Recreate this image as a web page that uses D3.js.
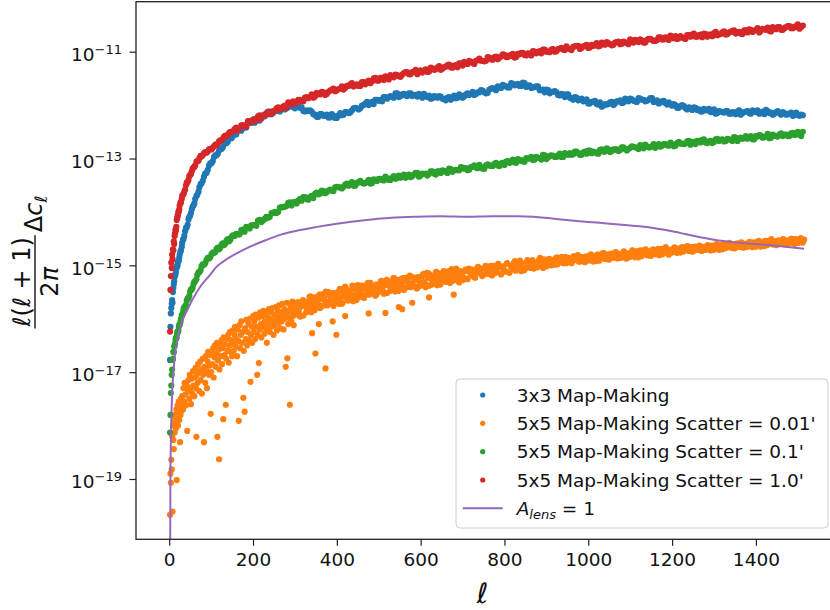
<!DOCTYPE html>
<html><head><meta charset="utf-8">
<script src="https://cdn.jsdelivr.net/npm/d3@7"></script>
<style>body{margin:0;background:#fff}svg{display:block}text{font-family:"DejaVu Sans",sans-serif}</style>
</head><body><svg id="chart" width="830" height="610"></svg>
<script>
// multipole grids for the three dense series
const ellGrid = [2,3,4,5,6,7,8,9,10,11,12,14,16,18,20,22,24,27,30,33,36,40,44,48,52,56,60,65,70,75,80,86,92,98,104,110,116,122,128,134,140,146,152,
160,168,176,184,192,200,208,216,224,232,
240,248,256,264,272,280,288,296,304,312,
320,328,336,344,352,360,368,376,384,392,
400,408,416,424,432,440,448,456,464,472,
480,488,496,504,512,520,528,536,544,552,
560,568,576,584,592,600,608,616,624,632,
640,648,656,664,672,680,688,696,704,712,
720,728,736,744,752,760,768,776,784,792,
800,808,816,824,832,840,848,856,864,872,
880,888,896,904,912,920,928,936,944,952,
960,968,976,984,992,1000,1008,1016,1024,1032,
1040,1048,1056,1064,1072,1080,1088,1096,1104,1112,
1120,1128,1136,1144,1152,1160,1168,1176,1184,1192,
1200,1208,1216,1224,1232,1240,1248,1256,1264,1272,
1280,1288,1296,1304,1312,1320,1328,1336,1344,1352,
1360,1368,1376,1384,1392,1400,1408,1416,1424,1432,
1440,1448,1456,1464,1472,1480,1488,1496,1504,1512];
const ellGridB = [13,15,17,19,21,23,25,28,31,34,38,42,46,50,54,58,62,67,72,77,83,89,95,101,107,113,119,125,131,137,143,149,156,
164,172,180,188,196,204,212,220,228,236,
244,252,260,268,276,284,292,300,308,316,
324,332,340,348,356,364,372,380,388,396,
404,412,420,428,436,444,452,460,468,476,
484,492,500,508,516,524,532,540,548,556,
564,572,580,588,596,604,612,620,628,636,
644,652,660,668,676,684,692,700,708,716,
724,732,740,748,756,764,772,780,788,796,
804,812,820,828,836,844,852,860,868,876,
884,892,900,908,916,924,932,940,948,956,
964,972,980,988,996,1004,1012,1020,1028,1036,
1044,1052,1060,1068,1076,1084,1092,1100,1108,1116,
1124,1132,1140,1148,1156,1164,1172,1180,1188,1196,
1204,1212,1220,1228,1236,1244,1252,1260,1268,1276,
1284,1292,1300,1308,1316,1324,1332,1340,1348,1356,
1364,1372,1380,1388,1396,1404,1412,1420,1428,1436,
1444,1452,1460,1468,1476,1484,1492,1500,1508];

// log10 of l(l+1)/2pi dC_l -- 3x3 map-making
const map3x3Log = [-16.77,-16.15,-15.90,-15.80,-15.72,-15.65,-15.70,-15.50,-15.42,-15.35,-15.30,-15.18,-15.12,-15.02,-15.00,-14.92,-14.86,-14.74,-14.65,-14.52,-14.45,-14.30,-14.24,-14.09,-14.02,-13.90,-13.84,-13.70,-13.62,-13.48,-13.42,-13.28,-13.21,-13.09,-13.05,-12.94,-12.91,-12.82,-12.79,-12.70,-12.68,-12.61,-12.58,
-12.55,-12.45,-12.43,-12.42,-12.33,-12.27,-12.29,-12.29,-12.19,-12.18,
-12.12,-12.15,-12.10,-12.12,-12.03,-12.06,-12.01,-12.04,-12.00,-12.05,
-12.11,-12.10,-12.10,-12.17,-12.22,-12.17,-12.20,-12.18,-12.23,-12.20,
-12.24,-12.15,-12.18,-12.13,-12.14,-12.06,-12.06,-12.06,-12.00,-11.94,
-11.97,-11.98,-11.90,-11.90,-11.85,-11.88,-11.83,-11.86,-11.78,-11.83,
-11.79,-11.83,-11.78,-11.81,-11.84,-11.81,-11.79,-11.85,-11.88,-11.83,
-11.86,-11.84,-11.89,-11.86,-11.90,-11.82,-11.86,-11.82,-11.84,-11.78,
-11.79,-11.81,-11.76,-11.72,-11.76,-11.77,-11.69,-11.70,-11.65,-11.68,
-11.64,-11.67,-11.59,-11.63,-11.60,-11.64,-11.59,-11.64,-11.68,-11.66,
-11.65,-11.72,-11.76,-11.72,-11.75,-11.74,-11.81,-11.79,-11.85,-11.80,
-11.87,-11.85,-11.91,-11.88,-11.92,-11.97,-11.94,-11.92,-11.99,-12.03,
-11.98,-11.98,-11.94,-11.97,-11.93,-11.96,-11.88,-11.93,-11.89,-11.93,
-11.87,-11.90,-11.93,-11.90,-11.87,-11.93,-11.97,-11.93,-11.96,-11.95,
-12.01,-12.00,-12.05,-12.00,-12.06,-12.04,-12.09,-12.05,-12.08,-12.12,
-12.09,-12.07,-12.13,-12.16,-12.11,-12.13,-12.11,-12.16,-12.13,-12.17,
-12.10,-12.15,-12.12,-12.15,-12.10,-12.13,-12.16,-12.12,-12.09,-12.15,
-12.18,-12.13,-12.15,-12.13,-12.18,-12.16,-12.20,-12.14,-12.20,-12.19];
const map3x3LogB = [-15.22,-15.17,-15.05,-15.03,-14.94,-14.91,-14.80,-14.72,-14.58,-14.51,-14.36,-14.29,-14.14,-14.07,-13.95,-13.88,-13.76,-13.68,-13.54,-13.47,-13.34,-13.27,-13.13,-13.09,-12.97,-12.94,-12.85,-12.82,-12.73,-12.71,-12.63,-12.62,-12.54,
-12.48,-12.48,-12.40,-12.33,-12.33,-12.33,-12.24,-12.23,-12.21,-12.12,
-12.17,-12.11,-12.11,-12.05,-12.08,-12.04,-12.00,-12.06,-12.03,-12.04,
-12.12,-12.11,-12.12,-12.18,-12.22,-12.17,-12.20,-12.23,-12.17,-12.24,
-12.19,-12.19,-12.13,-12.15,-12.10,-12.05,-12.08,-12.01,-11.97,-12.00,
-11.94,-11.90,-11.92,-11.93,-11.85,-11.85,-11.85,-11.78,-11.85,-11.80,
-11.82,-11.78,-11.83,-11.81,-11.79,-11.86,-11.82,-11.82,-11.87,-11.84,
-11.83,-11.88,-11.91,-11.85,-11.86,-11.87,-11.80,-11.86,-11.80,-11.81,
-11.75,-11.79,-11.76,-11.73,-11.78,-11.71,-11.68,-11.72,-11.66,-11.62,
-11.65,-11.67,-11.60,-11.62,-11.64,-11.58,-11.66,-11.63,-11.67,-11.65,
-11.72,-11.71,-11.71,-11.78,-11.75,-11.76,-11.82,-11.80,-11.80,-11.86,
-11.90,-11.86,-11.90,-11.93,-11.89,-11.97,-11.94,-11.98,-11.95,-12.01,
-11.99,-11.95,-12.00,-11.93,-11.91,-11.95,-11.91,-11.88,-11.92,-11.94,
-11.88,-11.90,-11.92,-11.87,-11.94,-11.91,-11.95,-11.92,-11.99,-11.98,
-11.98,-12.05,-12.02,-12.02,-12.08,-12.05,-12.04,-12.09,-12.12,-12.07,
-12.10,-12.13,-12.08,-12.15,-12.12,-12.14,-12.11,-12.16,-12.14,-12.12,
-12.18,-12.13,-12.11,-12.16,-12.12,-12.10,-12.14,-12.17,-12.11,-12.14,
-12.16,-12.11,-12.18,-12.15,-12.17,-12.14,-12.19,-12.18,-12.18];

// 5x5, scatter 0.1'
const scatter01Log = [-18.13,-17.80,-17.39,-17.25,-17.05,-16.95,-16.77,-16.75,-16.62,-16.63,-16.52,-16.47,-16.36,-16.34,-16.24,-16.22,-16.12,-16.06,-15.93,-15.89,-15.78,-15.74,-15.62,-15.57,-15.45,-15.42,-15.31,-15.26,-15.13,-15.09,-14.98,-14.96,-14.86,-14.85,-14.76,-14.75,-14.67,-14.67,-14.59,-14.59,-14.51,-14.52,-14.44,
-14.41,-14.42,-14.33,-14.28,-14.31,-14.25,-14.26,-14.15,-14.16,-14.09,
-14.09,-14.02,-14.02,-13.92,-13.91,-13.89,-13.82,-13.82,-13.84,-13.76,
-13.72,-13.76,-13.72,-13.74,-13.64,-13.66,-13.61,-13.63,-13.58,-13.61,
-13.53,-13.54,-13.53,-13.47,-13.48,-13.51,-13.45,-13.42,-13.47,-13.44,
-13.47,-13.39,-13.42,-13.38,-13.41,-13.37,-13.40,-13.33,-13.36,-13.36,
-13.30,-13.32,-13.35,-13.30,-13.27,-13.32,-13.29,-13.32,-13.24,-13.28,
-13.24,-13.27,-13.23,-13.27,-13.20,-13.22,-13.22,-13.16,-13.19,-13.22,
-13.16,-13.13,-13.18,-13.16,-13.19,-13.11,-13.14,-13.10,-13.13,-13.09,
-13.12,-13.05,-13.07,-13.07,-13.01,-13.03,-13.06,-13.00,-12.97,-13.02,
-12.99,-13.02,-12.94,-12.98,-12.94,-12.97,-12.94,-12.97,-12.90,-12.93,
-12.93,-12.87,-12.90,-12.93,-12.87,-12.85,-12.90,-12.88,-12.91,-12.83,
-12.87,-12.83,-12.86,-12.83,-12.86,-12.79,-12.82,-12.82,-12.77,-12.79,
-12.82,-12.77,-12.74,-12.79,-12.77,-12.80,-12.73,-12.76,-12.73,-12.76,
-12.73,-12.76,-12.69,-12.72,-12.72,-12.67,-12.69,-12.73,-12.67,-12.65,
-12.70,-12.68,-12.71,-12.64,-12.67,-12.64,-12.67,-12.64,-12.67,-12.61,
-12.63,-12.63,-12.58,-12.60,-12.64,-12.58,-12.56,-12.61,-12.59,-12.62,
-12.55,-12.58,-12.55,-12.58,-12.55,-12.58,-12.52,-12.55,-12.55,-12.50];
const scatter01LogB = [-16.51,-16.40,-16.37,-16.27,-16.25,-16.15,-16.11,-16.00,-15.93,-15.82,-15.78,-15.66,-15.62,-15.49,-15.45,-15.35,-15.30,-15.18,-15.13,-15.02,-14.99,-14.90,-14.87,-14.79,-14.77,-14.69,-14.70,-14.61,-14.62,-14.53,-14.55,-14.46,-14.45,
-14.42,-14.34,-14.37,-14.29,-14.25,-14.24,-14.16,-14.19,-14.13,-14.11,
-14.02,-14.00,-14.00,-13.91,-13.90,-13.83,-13.88,-13.81,-13.79,-13.79,
-13.72,-13.77,-13.70,-13.66,-13.67,-13.60,-13.65,-13.60,-13.60,-13.54,
-13.54,-13.56,-13.49,-13.51,-13.44,-13.51,-13.45,-13.45,-13.46,-13.40,
-13.46,-13.40,-13.38,-13.40,-13.34,-13.40,-13.36,-13.38,-13.32,-13.33,
-13.36,-13.30,-13.33,-13.27,-13.34,-13.28,-13.28,-13.29,-13.24,-13.30,
-13.24,-13.22,-13.25,-13.19,-13.25,-13.21,-13.22,-13.17,-13.18,-13.21,
-13.15,-13.17,-13.12,-13.19,-13.13,-13.13,-13.14,-13.08,-13.14,-13.08,
-13.06,-13.08,-13.02,-13.08,-13.04,-13.05,-12.99,-13.00,-13.03,-12.97,
-12.99,-12.93,-13.01,-12.95,-12.95,-12.97,-12.91,-12.97,-12.92,-12.90,
-12.92,-12.87,-12.93,-12.89,-12.91,-12.85,-12.87,-12.90,-12.84,-12.87,
-12.81,-12.88,-12.83,-12.83,-12.84,-12.79,-12.85,-12.80,-12.78,-12.80,
-12.75,-12.81,-12.77,-12.79,-12.73,-12.75,-12.78,-12.73,-12.75,-12.70,
-12.77,-12.71,-12.72,-12.73,-12.68,-12.74,-12.69,-12.67,-12.70,-12.64,
-12.71,-12.67,-12.69,-12.63,-12.65,-12.68,-12.63,-12.65,-12.60,-12.67,
-12.61,-12.62,-12.63,-12.58,-12.64,-12.59,-12.57,-12.60,-12.54,-12.61,
-12.57,-12.59,-12.53,-12.55,-12.58,-12.53,-12.56,-12.50,-12.58];

// 5x5, scatter 1.0'
const scatter10Log = [-16.24,-15.46,-15.20,-14.95,-15.05,-14.80,-14.88,-14.70,-14.72,-14.55,-14.60,-14.40,-14.35,-14.15,-14.08,-14.00,-13.95,-13.82,-13.76,-13.68,-13.62,-13.50,-13.44,-13.33,-13.29,-13.19,-13.16,-13.06,-13.04,-12.95,-12.94,-12.88,-12.87,-12.82,-12.80,-12.74,-12.72,-12.66,-12.63,-12.57,-12.56,-12.50,-12.49,
-12.42,-12.44,-12.38,-12.40,-12.30,-12.29,-12.29,-12.19,-12.21,-12.15,
-12.17,-12.11,-12.06,-12.08,-12.04,-12.05,-11.96,-11.93,-11.95,-11.90,
-11.93,-11.85,-11.85,-11.86,-11.77,-11.80,-11.76,-11.79,-11.73,-11.69,
-11.72,-11.69,-11.71,-11.64,-11.61,-11.65,-11.61,-11.64,-11.57,-11.57,
-11.59,-11.50,-11.54,-11.49,-11.53,-11.48,-11.44,-11.48,-11.44,-11.47,
-11.40,-11.38,-11.42,-11.38,-11.42,-11.35,-11.36,-11.38,-11.30,-11.34,
-11.30,-11.34,-11.29,-11.25,-11.29,-11.26,-11.29,-11.22,-11.19,-11.23,
-11.19,-11.23,-11.16,-11.17,-11.18,-11.10,-11.14,-11.10,-11.14,-11.09,
-11.06,-11.10,-11.08,-11.11,-11.04,-11.02,-11.06,-11.03,-11.07,-11.00,
-11.01,-11.03,-10.96,-11.00,-10.96,-11.00,-10.95,-10.93,-10.97,-10.94,
-10.97,-10.90,-10.89,-10.93,-10.89,-10.93,-10.87,-10.88,-10.90,-10.83,
-10.87,-10.84,-10.88,-10.83,-10.81,-10.85,-10.83,-10.86,-10.79,-10.78,
-10.82,-10.79,-10.83,-10.76,-10.78,-10.80,-10.73,-10.77,-10.73,-10.78,
-10.73,-10.71,-10.75,-10.73,-10.76,-10.69,-10.68,-10.72,-10.69,-10.73,
-10.67,-10.68,-10.71,-10.63,-10.67,-10.64,-10.68,-10.64,-10.61,-10.66,
-10.63,-10.67,-10.60,-10.58,-10.63,-10.59,-10.64,-10.57,-10.59,-10.61,
-10.54,-10.58,-10.54,-10.59,-10.54,-10.52,-10.56,-10.54,-10.57,-10.51];
const scatter10LogB = [-14.45,-14.33,-14.28,-14.12,-14.05,-13.99,-13.88,-13.83,-13.70,-13.67,-13.58,-13.45,-13.40,-13.31,-13.24,-13.17,-13.13,-13.05,-12.99,-12.96,-12.90,-12.89,-12.83,-12.83,-12.77,-12.75,-12.68,-12.66,-12.59,-12.58,-12.52,-12.51,-12.45,
-12.47,-12.38,-12.38,-12.30,-12.32,-12.26,-12.21,-12.25,-12.18,-12.13,
-12.16,-12.11,-12.04,-12.07,-12.01,-11.95,-11.98,-11.97,-11.90,-11.93,
-11.86,-11.87,-11.80,-11.84,-11.79,-11.75,-11.81,-11.75,-11.71,-11.74,
-11.70,-11.65,-11.68,-11.64,-11.59,-11.63,-11.64,-11.57,-11.61,-11.54,
-11.56,-11.49,-11.54,-11.49,-11.46,-11.52,-11.46,-11.43,-11.46,-11.43,
-11.38,-11.42,-11.38,-11.34,-11.38,-11.39,-11.33,-11.37,-11.31,-11.33,
-11.27,-11.32,-11.28,-11.24,-11.30,-11.25,-11.22,-11.26,-11.22,-11.17,
-11.21,-11.17,-11.13,-11.17,-11.17,-11.11,-11.15,-11.09,-11.11,-11.05,
-11.10,-11.07,-11.04,-11.10,-11.05,-11.02,-11.07,-11.04,-10.99,-11.03,
-10.99,-10.96,-11.00,-11.01,-10.95,-10.99,-10.94,-10.96,-10.90,-10.95,
-10.91,-10.89,-10.95,-10.90,-10.87,-10.92,-10.89,-10.84,-10.89,-10.85,
-10.82,-10.86,-10.87,-10.82,-10.86,-10.81,-10.83,-10.77,-10.83,-10.79,
-10.77,-10.83,-10.78,-10.76,-10.80,-10.78,-10.73,-10.77,-10.74,-10.70,
-10.75,-10.76,-10.71,-10.75,-10.69,-10.72,-10.66,-10.72,-10.68,-10.66,
-10.72,-10.68,-10.65,-10.69,-10.67,-10.62,-10.67,-10.63,-10.60,-10.64,
-10.66,-10.60,-10.64,-10.59,-10.61,-10.56,-10.61,-10.58,-10.55,-10.62,
-10.57,-10.54,-10.59,-10.56,-10.52,-10.56,-10.53,-10.49,-10.54];

// 5x5, scatter 0.01' : [l, log10 value]
const scatter001Pts = [[2,-19.67],[3,-18.90],[4,-19.07],[5,-18.64],[6,-18.82],[7,-18.20],[8,-19.61],[9,-18.00],[10,-18.27],[11,-18.44],[12,-17.90],[13,-18.13],[14,-17.80],[15,-17.97],[16,-18.05],[17,-17.70],[18,-19.02],[19,-17.85],[20,-17.62],[21,-18.00],[22,-17.75],[23,-17.55],[24,-17.90],[25,-17.68],[26,-18.31],[27,-17.80],[28,-17.50],[29,-17.72],[30,-17.60],
[31,-17.45],[33,-17.70],[34,-17.30],[36,-17.55],[37,-17.20],[39,-17.42],[40,-17.62],[42,-17.25],[43,-18.10],[45,-17.35],[46,-17.15],[48,-17.50],[49,-17.05],[51,-17.30],[52,-17.60],[54,-17.12],[55,-17.40],[57,-16.98],[58,-17.25],[60,-17.45],[61,-17.10],[63,-16.92],[64,-17.30],[65,-18.21],[66,-17.05],[68,-17.20],[69,-16.85],[71,-17.35],[72,-17.00],[74,-16.80],[75,-17.15],[77,-16.95],[78,-17.40],[80,-16.75],[81,-17.05],[83,-18.31],[84,-16.90],[86,-17.20],[87,-16.70],[89,-16.98],[90,-17.30],[92,-16.80],[93,-16.62],[95,-17.05],[96,-16.88],[98,-16.68],[99,-17.78],[100,-17.00],
[102,-16.60],[103,-16.85],[105,-16.55],[106,-17.10],[108,-16.72],[109,-16.50],[111,-16.90],[112,-16.65],[114,-16.45],[115,-18.21],[116,-16.78],[118,-16.58],[119,-18.63],[120,-16.95],[122,-16.50],[123,-16.70],[125,-16.40],[126,-16.85],[128,-16.55],[129,-17.88],[130,-16.35],[132,-16.68],[133,-16.48],[135,-17.61],[136,-16.75],[138,-16.38],[139,-16.60],[141,-16.30],[142,-16.82],[144,-16.50],[145,-16.25],[147,-16.62],[148,-16.40],[150,-16.70],[151,-16.22],[153,-16.48],[154,-16.60],[156,-16.30],[157,-16.15],[159,-16.52],[160,-16.38],[162,-16.70],[163,-16.20],[165,-16.42],[166,-17.91],[168,-16.12],[169,-16.55],[171,-16.30],[172,-16.05],[174,-16.45],[175,-16.25],[177,-17.48],[178,-16.60],[180,-17.74],[181,-16.18],[183,-16.38],[184,-16.02],[186,-16.50],[187,-16.25],[189,-16.10],[190,-16.40],[192,-16.00],[194,-17.18],[195,-16.30],[197,-16.15],[198,-16.45],[200,-15.95],
[202,-16.25],[203,-16.05],[205,-16.38],[206,-15.92],[208,-16.15],[210,-17.05],[211,-16.30],[213,-15.98],[214,-16.83],[216,-16.20],[217,-15.88],[219,-16.10],[220,-16.35],[222,-15.95],[224,-16.15],[225,-15.85],[227,-16.28],[228,-16.05],[230,-15.90],[232,-16.20],[233,-16.45],[235,-15.98],[236,-16.10],[238,-15.82],[240,-16.25],[241,-16.00],[243,-15.88],[244,-16.15],[246,-15.80],[248,-16.05],[249,-16.30],[251,-15.92],[252,-16.12],[254,-15.78],[256,-16.00],[257,-16.22],[259,-15.85],[260,-16.08],[262,-15.75],[264,-15.95],[265,-16.18],[267,-15.88],[268,-16.05],[270,-15.72],[272,-15.98],[273,-16.20],[275,-15.82],[276,-16.00],[278,-16.90],[279,-15.90],[281,-15.70],[282,-16.74],[284,-16.10],[286,-15.85],[287,-15.98],[288,-17.61],[289,-15.75],[291,-16.05],[292,-15.88],[294,-15.68],[295,-15.95],[297,-16.12],[298,-15.80],[300,-15.90],
[305,-15.71],[310,-15.91],[315,-15.77],[320,-15.94],[325,-15.69],[330,-15.78],[335,-15.59],[340,-15.84],[345,-15.69],[350,-15.75],
[355,-15.58],[360,-15.80],[365,-15.61],[370,-15.65],[375,-15.74],[380,-15.50],[385,-15.67],[390,-15.52],[395,-15.68],[400,-15.53],
[405,-15.72],[410,-15.46],[415,-15.58],[420,-15.40],[425,-15.63],[430,-15.50],[435,-15.65],[440,-15.44],[445,-15.56],[450,-15.37],
[455,-15.59],[460,-15.44],[465,-15.61],[470,-15.39],[475,-15.48],[480,-15.33],[485,-15.52],[490,-15.43],[495,-15.54],[500,-15.36],
[505,-15.30],[510,-15.49],[515,-15.37],[520,-15.52],[525,-15.32],[530,-15.41],[535,-15.24],[540,-15.46],[545,-15.34],[550,-15.40],
[555,-15.25],[560,-15.46],[565,-15.29],[570,-15.40],[575,-15.20],[580,-15.35],[585,-15.23],[590,-15.43],[595,-15.28],[600,-15.38],
[605,-15.18],[610,-15.34],[615,-15.14],[620,-15.38],[625,-15.21],[630,-15.27],[635,-15.16],[640,-15.37],[645,-15.21],[650,-15.30],
[655,-15.11],[660,-15.31],[665,-15.19],[670,-15.33],[675,-15.13],[680,-15.23],[685,-15.06],[690,-15.25],[695,-15.14],[700,-15.28],
[705,-15.11],[710,-15.25],[715,-15.06],[720,-15.19],[725,-15.11],[730,-15.23],[735,-15.05],[740,-15.14],[745,-15.06],[750,-15.18],
[755,-15.01],[760,-15.15],[765,-15.08],[770,-15.19],[775,-15.01],[780,-15.11],[785,-14.97],[790,-15.15],[795,-15.02],[800,-15.12],
[805,-14.97],[810,-15.13],[815,-15.02],[820,-15.08],[825,-14.92],[830,-15.04],[835,-14.95],[840,-15.11],[845,-14.97],[850,-15.06],
[855,-14.90],[860,-15.03],[865,-14.93],[870,-15.06],[875,-14.96],[880,-15.02],[885,-14.86],[890,-14.98],[895,-14.89],[900,-15.02],
[905,-14.89],[910,-14.99],[915,-14.91],[920,-14.99],[925,-14.85],[930,-14.93],[935,-14.87],[940,-14.96],[945,-14.84],[950,-14.94],
[955,-14.87],[960,-14.96],[965,-14.83],[970,-14.90],[975,-14.81],[980,-14.93],[985,-14.86],[990,-14.93],[995,-14.83],[1000,-14.90],
[1005,-14.80],[1010,-14.91],[1015,-14.84],[1020,-14.92],[1025,-14.80],[1030,-14.86],[1035,-14.77],[1040,-14.88],[1045,-14.80],[1050,-14.89],
[1055,-14.78],[1060,-14.85],[1065,-14.75],[1070,-14.87],[1075,-14.79],[1080,-14.85],[1085,-14.74],[1090,-14.87],[1095,-14.78],[1100,-14.84],
[1105,-14.72],[1110,-14.81],[1115,-14.74],[1120,-14.85],[1125,-14.72],[1130,-14.78],[1135,-14.71],[1140,-14.81],[1145,-14.74],[1150,-14.82],
[1155,-14.70],[1160,-14.79],[1165,-14.72],[1170,-14.81],[1175,-14.69],[1180,-14.75],[1185,-14.66],[1190,-14.78],[1195,-14.71],[1200,-14.76],
[1205,-14.67],[1210,-14.75],[1215,-14.69],[1220,-14.76],[1225,-14.66],[1230,-14.71],[1235,-14.65],[1240,-14.73],[1245,-14.66],[1250,-14.74],
[1255,-14.65],[1260,-14.71],[1265,-14.63],[1270,-14.73],[1275,-14.66],[1280,-14.71],[1285,-14.62],[1290,-14.68],[1295,-14.63],[1300,-14.71],
[1305,-14.61],[1310,-14.68],[1315,-14.63],[1320,-14.70],[1325,-14.60],[1330,-14.65],[1335,-14.59],[1340,-14.67],[1345,-14.61],[1350,-14.68],
[1355,-14.59],[1360,-14.65],[1365,-14.57],[1370,-14.67],[1375,-14.60],[1380,-14.65],[1385,-14.56],[1390,-14.62],[1395,-14.57],[1400,-14.65],
[1405,-14.55],[1410,-14.62],[1415,-14.57],[1420,-14.64],[1425,-14.54],[1430,-14.59],[1435,-14.53],[1440,-14.61],[1445,-14.55],[1450,-14.62],
[1455,-14.53],[1460,-14.59],[1465,-14.51],[1470,-14.61],[1475,-14.54],[1480,-14.59],[1485,-14.50],[1490,-14.57],[1495,-14.51],[1500,-14.58],
[1505,-14.52],[1510,-14.57],[1515,-14.52],
[341,-16.27],[349,-16.65],[357,-16.10],[373,-16.93],[390,-16.05],[399,-16.30],[420,-15.95],[476,-15.90],[516,-15.89],[548,-15.78],[556,-15.82],[580,-15.70],[620,-15.60],[679,-15.55]];
const scatter001PtsB = [[302,-15.92],[307,-15.69],[312,-15.96],[317,-15.75],[322,-15.67],[327,-15.88],[332,-15.75],[337,-15.58],[342,-15.77],[347,-15.84],
[352,-15.61],[357,-15.65],[362,-15.76],[367,-15.54],[372,-15.67],[377,-15.75],[382,-15.54],[387,-15.56],[392,-15.76],[397,-15.58],
[402,-15.67],[407,-15.44],[412,-15.72],[417,-15.51],[422,-15.44],[427,-15.66],[432,-15.53],[437,-15.38],[442,-15.57],[447,-15.65],
[452,-15.43],[457,-15.46],[462,-15.56],[467,-15.38],[472,-15.48],[477,-15.55],[482,-15.37],[487,-15.40],[492,-15.57],[497,-15.42],
[502,-15.49],[507,-15.29],[512,-15.53],[517,-15.36],[522,-15.30],[527,-15.48],[532,-15.38],[537,-15.24],[542,-15.40],[547,-15.48],
[552,-15.28],[557,-15.31],[562,-15.42],[567,-15.23],[572,-15.34],[577,-15.41],[582,-15.23],[587,-15.26],[592,-15.43],[597,-15.28],
[602,-15.36],[607,-15.16],[612,-15.41],[617,-15.23],[622,-15.18],[627,-15.36],[632,-15.25],[637,-15.12],[642,-15.28],[647,-15.36],
[652,-15.16],[657,-15.19],[662,-15.30],[667,-15.11],[672,-15.22],[677,-15.29],[682,-15.12],[687,-15.14],[692,-15.32],[697,-15.17],
[702,-15.23],[707,-15.08],[712,-15.26],[717,-15.13],[722,-15.08],[727,-15.22],[732,-15.13],[737,-15.03],[742,-15.15],[747,-15.20],
[752,-15.06],[757,-15.08],[762,-15.16],[767,-15.01],[772,-15.10],[777,-15.15],[782,-15.02],[787,-15.03],[792,-15.17],[797,-15.05],
[802,-15.11],[807,-14.96],[812,-15.14],[817,-15.01],[822,-14.96],[827,-15.10],[832,-15.02],[837,-14.91],[842,-15.04],[847,-15.09],
[852,-14.95],[857,-14.97],[862,-15.05],[867,-14.90],[872,-14.98],[877,-15.04],[882,-14.90],[887,-14.92],[892,-15.05],[897,-14.94],
[902,-14.98],[907,-14.88],[912,-15.00],[917,-14.91],[922,-14.87],[927,-14.98],[932,-14.91],[937,-14.84],[942,-14.93],[947,-14.96],
[952,-14.86],[957,-14.89],[962,-14.93],[967,-14.83],[972,-14.90],[977,-14.93],[982,-14.84],[987,-14.85],[992,-14.94],[997,-14.86],
[1002,-14.91],[1007,-14.80],[1012,-14.93],[1017,-14.83],[1022,-14.80],[1027,-14.91],[1032,-14.84],[1037,-14.77],[1042,-14.86],[1047,-14.89],
[1052,-14.79],[1057,-14.82],[1062,-14.86],[1067,-14.76],[1072,-14.82],[1077,-14.86],[1082,-14.77],[1087,-14.77],[1092,-14.87],[1097,-14.78],
[1102,-14.83],[1107,-14.73],[1112,-14.85],[1117,-14.76],[1122,-14.73],[1127,-14.83],[1132,-14.77],[1137,-14.70],[1142,-14.78],[1147,-14.82],
[1152,-14.72],[1157,-14.75],[1162,-14.79],[1167,-14.69],[1172,-14.75],[1177,-14.79],[1182,-14.69],[1187,-14.70],[1192,-14.80],[1197,-14.71],
[1202,-14.75],[1207,-14.67],[1212,-14.77],[1217,-14.69],[1222,-14.67],[1227,-14.74],[1232,-14.70],[1237,-14.64],[1242,-14.71],[1247,-14.74],
[1252,-14.66],[1257,-14.68],[1262,-14.71],[1267,-14.64],[1272,-14.69],[1277,-14.71],[1282,-14.64],[1287,-14.65],[1292,-14.72],[1297,-14.65],
[1302,-14.69],[1307,-14.60],[1312,-14.71],[1317,-14.63],[1322,-14.60],[1327,-14.68],[1332,-14.64],[1337,-14.58],[1342,-14.65],[1347,-14.68],
[1352,-14.60],[1357,-14.61],[1362,-14.65],[1367,-14.58],[1372,-14.62],[1377,-14.65],[1382,-14.58],[1387,-14.59],[1392,-14.66],[1397,-14.59],
[1402,-14.63],[1407,-14.54],[1412,-14.65],[1417,-14.57],[1422,-14.54],[1427,-14.62],[1432,-14.58],[1437,-14.51],[1442,-14.59],[1447,-14.62],
[1452,-14.54],[1457,-14.55],[1462,-14.59],[1467,-14.52],[1472,-14.56],[1477,-14.59],[1482,-14.52],[1487,-14.53],[1492,-14.60],[1497,-14.53],
[1502,-14.57],[1507,-14.49],[1512,-14.57]];
const scatter001PtsC = [[304,-15.74],[309,-15.85],[314,-15.95],[319,-15.65],[324,-15.76],[329,-15.85],[334,-15.68],[339,-15.88],[344,-15.60],[349,-15.70],
[354,-15.74],[359,-15.55],[364,-15.77],[369,-15.60],[374,-15.49],[379,-15.71],[384,-15.59],[389,-15.73],[394,-15.52],[399,-15.64],
[404,-15.49],[409,-15.60],[414,-15.70],[419,-15.41],[424,-15.52],[429,-15.62],[434,-15.47],[439,-15.67],[444,-15.40],[449,-15.50],
[454,-15.54],[459,-15.38],[464,-15.57],[469,-15.43],[474,-15.33],[479,-15.52],[484,-15.42],[489,-15.54],[494,-15.36],[499,-15.46],
[504,-15.33],[509,-15.44],[514,-15.52],[519,-15.27],[524,-15.38],[529,-15.46],[534,-15.32],[539,-15.49],[544,-15.27],[549,-15.35],
[554,-15.39],[559,-15.24],[564,-15.42],[569,-15.29],[574,-15.19],[579,-15.38],[584,-15.28],[589,-15.40],[594,-15.22],[599,-15.33],
[604,-15.20],[609,-15.31],[614,-15.39],[619,-15.15],[624,-15.25],[629,-15.33],[634,-15.20],[639,-15.37],[644,-15.15],[649,-15.23],
[654,-15.27],[659,-15.12],[664,-15.30],[669,-15.17],[674,-15.07],[679,-15.27],[684,-15.16],[689,-15.29],[694,-15.11],[699,-15.22]];

// A_lens = 1 theory curve : [l, log10 value]
const lensPts = [[2,-21.0],[3,-18.9],[4,-18.3],[5,-17.9],[7,-17.4],[10,-17.0],[14,-16.65],[19,-16.40],[25,-16.20],[32,-16.02],[43,-15.84],[55,-15.65],[74,-15.40],[95,-15.20],[114,-15.02],[140,-14.87],[160,-14.78],[193,-14.65],[230,-14.53],[265,-14.43],[300,-14.36],[353,-14.28],[400,-14.22],[472,-14.15],[530,-14.11],[591,-14.09],[650,-14.08],[711,-14.09],[770,-14.08],[830,-14.08],[870,-14.09],[909,-14.12],[960,-14.16],[1020,-14.20],[1080,-14.24],[1140,-14.28],[1200,-14.36],[1259,-14.46],[1300,-14.52],[1350,-14.57],[1418,-14.61],[1470,-14.65],[1515,-14.69]];

const xTicks = [0,200,400,600,800,1000,1200,1400];
const yTickExps = [-19,-17,-15,-13,-11];
const legendLabels = ["3x3 Map-Making","5x5 Map-Making Scatter = 0.01'","5x5 Map-Making Scatter = 0.1'","5x5 Map-Making Scatter = 1.0'"];
const colors = ["#1f77b4","#ff7f0e","#2ca02c","#d62728","#9467bd"];

const svg = d3.select("#chart");
const L=136, R=837, T=1.7, B=539.3;
const x = d3.scaleLinear().domain([-79.2,1593.5]).range([L,R]);
const y = d3.scaleLog().domain([Math.pow(10,-20.129),Math.pow(10,-10.064)]).range([B,T]);

svg.append("defs").append("clipPath").attr("id","clip").append("rect")
  .attr("x",L).attr("y",T).attr("width",R-L).attr("height",B-T);
const plot = svg.append("g").attr("clip-path","url(#clip)");

function dots(pts,color){
  plot.append("g").selectAll("circle").data(pts).join("circle")
    .attr("cx",d=>x(d[0])).attr("cy",d=>y(Math.pow(10,d[1]))).attr("r",3.1).attr("fill",color);
}
const zip = (ells,vals) => ells.map((l,i)=>[l,vals[i]]).filter(d=>d[1]!==undefined);
dots(zip(ellGrid,map3x3Log).concat(zip(ellGridB,map3x3LogB)),colors[0]);
dots(scatter001Pts.concat(scatter001PtsB,scatter001PtsC),colors[1]);
dots(zip(ellGrid,scatter01Log).concat(zip(ellGridB,scatter01LogB)),colors[2]);
dots(zip(ellGrid,scatter10Log).concat(zip(ellGridB,scatter10LogB)),colors[3]);
plot.append("path").datum(lensPts)
  .attr("d",d3.line().x(d=>x(d[0])).y(d=>y(Math.pow(10,d[1]))).curve(d3.curveMonotoneX))
  .attr("fill","none").attr("stroke",colors[4]).attr("stroke-width",2);

// frame
svg.append("rect").attr("x",L).attr("y",T).attr("width",R-L).attr("height",B-T)
  .attr("fill","none").attr("stroke","#222").attr("stroke-width",1.3);

// x axis
const gx = svg.append("g").attr("transform",`translate(0,${B})`)
  .call(d3.axisBottom(x).tickValues(xTicks).tickSize(6.5).tickPadding(7.5).tickFormat(d3.format("d")));
gx.select(".domain").remove();
gx.attr("font-family","DejaVu Sans").attr("font-size",18.5);
gx.selectAll("line").attr("stroke","#222").attr("stroke-width",1.2);
gx.selectAll("text").attr("fill","#111");

// y axis
const gy = svg.append("g").attr("transform",`translate(${L},0)`)
  .call(d3.axisLeft(y).tickValues(yTickExps.map(e=>Math.pow(10,e))).tickSize(6.5).tickFormat(""));
gy.select(".domain").remove();
gy.selectAll("line").attr("stroke","#222").attr("stroke-width",1.2);
yTickExps.forEach(e=>{
  const ty = y(Math.pow(10,e));
  const t = svg.append("text").attr("x",122).attr("y",ty+9.3).attr("text-anchor","end")
    .attr("font-size",18.5).attr("fill","#111");
  t.append("tspan").text("10");
  t.append("tspan").attr("font-size",13).attr("dy",-6.8).text("\u2212"+Math.abs(e));
});

// x label
svg.append("text").attr("x",482.5).attr("y",603).attr("text-anchor","middle")
  .attr("font-size",28).attr("font-style","italic").attr("fill","#111").text("\u2113");

// y label (fraction)
const F = 24;
const yl = svg.append("g").attr("transform","translate(35,262) rotate(-90)");
const num = yl.append("text").attr("font-size",F).attr("fill","#111").attr("y",-0.22*F);
num.append("tspan").attr("font-style","italic").text("\u2113");
num.append("tspan").text("(");
num.append("tspan").attr("font-style","italic").text("\u2113");
num.append("tspan").text(" + 1)");
const nw = num.node().getComputedTextLength();
const barW = nw + 4;
const den = yl.append("text").attr("font-size",F).attr("fill","#111").attr("y",0.95*F).attr("text-anchor","middle");
den.append("tspan").text("2");
den.append("tspan").attr("font-style","italic").text("\u03c0");
const dc = yl.append("text").attr("font-size",F).attr("fill","#111").attr("y",0.3*F);
dc.append("tspan").text("\u0394");
dc.append("tspan").attr("font-style","italic").text("c");
dc.append("tspan").attr("font-style","italic").attr("font-size",0.7*F).attr("dy",0.2*F).text("\u2113");
const dw = dc.node().getComputedTextLength();
const total = barW + 3 + dw;
const x0 = -total/2;
num.attr("x",x0+2);
yl.append("line").attr("x1",x0).attr("x2",x0+barW).attr("y1",0).attr("y2",0).attr("stroke","#111").attr("stroke-width",1.4);
den.attr("x",x0+barW/2);
dc.attr("x",x0+barW+3);

// legend
const lg = svg.append("g");
lg.append("rect").attr("x",456).attr("y",379).attr("width",372).attr("height",149).attr("rx",4)
  .attr("fill","#fff").attr("fill-opacity",0.8).attr("stroke","#cccccc").attr("stroke-width",1);
const rowY = [395,423.3,451.7,480,508.3];
legendLabels.forEach((lab,i)=>{
  lg.append("circle").attr("cx",482.7).attr("cy",rowY[i]).attr("r",2.6).attr("fill",colors[i]);
  lg.append("text").attr("x",516.7).attr("y",rowY[i]+6.6).attr("font-size",18.5).attr("fill","#111").text(lab);
});
lg.append("line").attr("x1",462.7).attr("x2",502.7).attr("y1",rowY[4]).attr("y2",rowY[4])
  .attr("stroke",colors[4]).attr("stroke-width",2);
const lt = lg.append("text").attr("x",516.7).attr("y",rowY[4]+6.6).attr("font-size",18.5).attr("fill","#111");
lt.append("tspan").attr("font-style","italic").text("A");
lt.append("tspan").attr("font-style","italic").attr("font-size",13).attr("dy",4).text("lens");
lt.append("tspan").attr("dy",-4).text(" = 1");
</script></body></html>
